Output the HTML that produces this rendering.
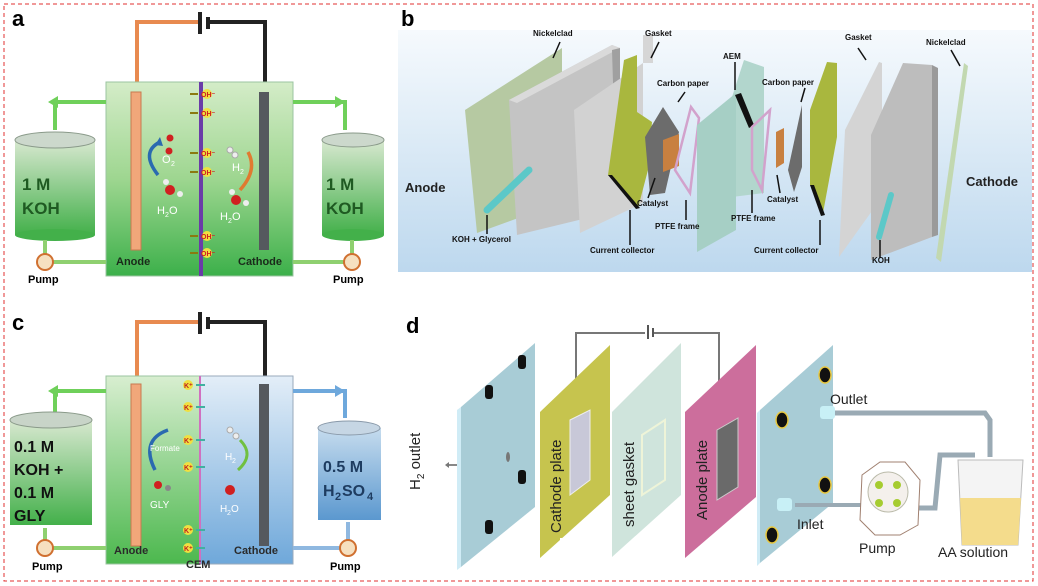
<!DOCTYPE html>
<html><head><meta charset="utf-8"><style>
html,body{margin:0;padding:0;background:#fff}
svg{display:block}
text{font-family:"Liberation Sans",Arial,sans-serif}
.b{font-weight:bold}
</style></head><body>
<svg width="1038" height="586" viewBox="0 0 1038 586" xmlns="http://www.w3.org/2000/svg">
<defs>
<linearGradient id="ga" x1="0" y1="0" x2="0" y2="1"><stop offset="0" stop-color="#d4ecc8"/><stop offset="0.5" stop-color="#9ed690"/><stop offset="1" stop-color="#3cb04a"/></linearGradient>
<linearGradient id="gc" x1="0" y1="0" x2="0" y2="1"><stop offset="0" stop-color="#d8eed0"/><stop offset="1" stop-color="#4cb84e"/></linearGradient>
<linearGradient id="bc" x1="0" y1="0" x2="0" y2="1"><stop offset="0" stop-color="#e3eef8"/><stop offset="1" stop-color="#6fa8da"/></linearGradient>
<linearGradient id="tk" x1="0" y1="0" x2="0" y2="1"><stop offset="0" stop-color="#d8e8d0"/><stop offset="1" stop-color="#43b04a"/></linearGradient>
<linearGradient id="tb" x1="0" y1="0" x2="0" y2="1"><stop offset="0" stop-color="#c6dcee"/><stop offset="1" stop-color="#5b98cf"/></linearGradient>
<linearGradient id="bg" x1="0" y1="0" x2="0" y2="1"><stop offset="0" stop-color="#f6fafd"/><stop offset="1" stop-color="#bdd8ee"/></linearGradient>
</defs>
<rect x="4" y="4" width="1029" height="577" fill="none" stroke="#e03030" stroke-width="1" stroke-dasharray="4,3"/>

<!-- ===== Panel a ===== -->
<text x="12" y="26" font-size="22" class="b" font-family="Liberation Serif">a</text>
<polyline points="137,88 137,22 198,22" fill="none" stroke="#e88a50" stroke-width="4"/>
<rect x="198" y="12" width="4" height="22" fill="#222"/>
<rect x="206" y="17" width="4" height="12" fill="#222"/>
<polyline points="208,22 265,22 265,88" fill="none" stroke="#222" stroke-width="4"/>
<rect x="106" y="82" width="187" height="194" fill="url(#ga)" stroke="#9bc4a0"/>
<rect x="199" y="82" width="4" height="194" fill="#6a3ca8"/>
<rect x="131" y="92" width="10" height="158" fill="#f1a77a" stroke="#c87a50"/>
<rect x="259" y="92" width="10" height="158" fill="#55595e"/>
<g fill="#f0e040"><circle cx="207" cy="94" r="5"/><circle cx="207" cy="113" r="5"/><circle cx="207" cy="153" r="5"/><circle cx="207" cy="172" r="5"/><circle cx="207" cy="236" r="5"/><circle cx="207" cy="253" r="5"/></g>
<g font-size="7" fill="#d02020" class="b"><text x="201" y="97">OH⁻</text><text x="201" y="116">OH⁻</text><text x="201" y="156">OH⁻</text><text x="201" y="175">OH⁻</text><text x="201" y="239">OH⁻</text><text x="201" y="256">OH⁻</text></g>
<g fill="#8a7a10"><rect x="190" y="93" width="8" height="2"/><rect x="190" y="112" width="8" height="2"/><rect x="190" y="152" width="8" height="2"/><rect x="190" y="171" width="8" height="2"/><rect x="190" y="235" width="8" height="2"/><rect x="190" y="252" width="8" height="2"/></g>
<path d="M158,175 Q140,152 160,142" fill="none" stroke="#2a6ab0" stroke-width="3.5"/>
<polygon points="160,137 163,146 155,145" fill="#2a6ab0"/>
<path d="M240,190 Q258,170 248,152" fill="none" stroke="#e07a30" stroke-width="3.5"/>
<circle cx="170" cy="138" r="3.5" fill="#d02020"/><circle cx="169" cy="151" r="3.5" fill="#d02020"/>
<text x="162" y="163" font-size="11" fill="#fff">O</text><text x="171" y="166" font-size="7" fill="#fff">2</text>
<circle cx="170" cy="190" r="5" fill="#d02020"/><circle cx="166" cy="182" r="3" fill="#eee"/><circle cx="180" cy="194" r="3" fill="#eee"/>
<text x="157" y="214" font-size="11" fill="#fff">H</text><text x="165" y="217" font-size="7" fill="#fff">2</text><text x="169" y="214" font-size="11" fill="#fff">O</text>
<circle cx="230" cy="150" r="3" fill="#eee" stroke="#aaa"/><circle cx="235" cy="155" r="3" fill="#eee" stroke="#aaa"/>
<text x="232" y="171" font-size="11" fill="#fff">H</text><text x="240" y="174" font-size="7" fill="#fff">2</text>
<circle cx="236" cy="200" r="5" fill="#d02020"/><circle cx="232" cy="192" r="3" fill="#eee"/><circle cx="246" cy="203" r="3" fill="#eee"/>
<text x="220" y="220" font-size="11" fill="#fff">H</text><text x="228" y="223" font-size="7" fill="#fff">2</text><text x="232" y="220" font-size="11" fill="#fff">O</text>
<text x="116" y="265" font-size="11" class="b" fill="#1a2a1a">Anode</text>
<text x="238" y="265" font-size="11" class="b" fill="#1a2a1a">Cathode</text>
<polyline points="106,102 55,102 55,130" fill="none" stroke="#6fd05a" stroke-width="4"/>
<polygon points="58,96 58,108 48,102" fill="#6fd05a"/>
<polyline points="293,102 345,102 345,130" fill="none" stroke="#6fd05a" stroke-width="4"/>
<polygon points="335,96 335,108 345,102" fill="#6fd05a"/>
<rect x="15" y="140" width="80" height="95" fill="url(#tk)"/><ellipse cx="55" cy="140" rx="40" ry="8" fill="#ccd8cc" stroke="#8a9a8a"/><ellipse cx="55" cy="235" rx="40" ry="6" fill="#43b04a"/>
<text x="22" y="190" font-size="17" class="b" fill="#1f5a22">1 M</text><text x="22" y="214" font-size="17" class="b" fill="#1f5a22">KOH</text>
<rect x="322" y="140" width="62" height="95" fill="url(#tk)"/><ellipse cx="353" cy="140" rx="31" ry="7" fill="#ccd8cc" stroke="#8a9a8a"/><ellipse cx="353" cy="235" rx="31" ry="6" fill="#43b04a"/>
<text x="326" y="190" font-size="17" class="b" fill="#1f5a22">1 M</text><text x="326" y="214" font-size="17" class="b" fill="#1f5a22">KOH</text>
<polyline points="45,240 45,262 106,262" fill="none" stroke="#8fd070" stroke-width="4"/>
<polyline points="352,240 352,262 293,262" fill="none" stroke="#8fd070" stroke-width="4"/>
<circle cx="45" cy="262" r="8" fill="#f6e0c0" stroke="#d07030" stroke-width="2"/>
<circle cx="352" cy="262" r="8" fill="#f6e0c0" stroke="#d07030" stroke-width="2"/>
<text x="28" y="283" font-size="11" class="b">Pump</text><text x="333" y="283" font-size="11" class="b">Pump</text>

<!-- ===== Panel b ===== -->
<text x="401" y="26" font-size="22" class="b" font-family="Liberation Serif">b</text>
<rect x="398" y="30" width="634" height="242" fill="url(#bg)"/>
<!-- nickelclad left -->
<polygon points="465,110 562,48 562,202 477,233" fill="#b6c9a2"/>
<!-- big block left -->
<polygon points="509,100 612,45 620,48 620,210 517,235" fill="#c4c4c4"/>
<polygon points="509,100 612,45 620,48 517,103" fill="#dadada"/>
<polygon points="620,48 620,210 617,212 612,50" fill="#a0a0a0"/>
<!-- gasket left -->
<polygon points="574,110 643,63 643,203 580,233" fill="#d2d2d2"/>
<rect x="643" y="35" width="10" height="28" fill="#d6d6d6"/>
<!-- current collector -->
<polygon points="608,175 624,60 637,55 637,112 652,122 648,170 638,208" fill="#a9b73e"/>
<polygon points="608,175 612,175 640,208 636,209" fill="#111"/>
<!-- carbon paper -->
<polygon points="645,137 663,107 679,132 665,193 650,195" fill="#6c6c6c"/>
<polygon points="663,140 679,134 679,166 663,172" fill="#c88040"/>
<polygon points="675,170 691,107 699,118 690,193" fill="none" stroke="#d2a2cc" stroke-width="2.5"/>
<!-- middle teal -->
<polygon points="732,97 744,60 764,67 764,193 732,197" fill="#b2d6cd"/>
<polygon points="697,125 736,93 736,230 697,252" fill="#a6cfc5"/>
<polygon points="735,95 741,93 754,125 749,128" fill="#111"/>
<polygon points="752,127 770,110 762,190 752,170" fill="none" stroke="#d2a2cc" stroke-width="2.5"/>
<polygon points="776,132 784,128 784,163 776,168" fill="#c88040"/>
<polygon points="788,170 802,105 802,167 794,192" fill="#6c6c6c"/>
<!-- current collector 2 -->
<polygon points="810,110 827,62 837,63 837,137 823,213 810,185" fill="#a9b73e"/>
<polygon points="810,185 814,185 825,215 821,216" fill="#111"/>
<!-- gasket right -->
<polygon points="845,130 879,62 882,63 882,197 839,257" fill="#d4d4d4"/>
<!-- big block right -->
<polygon points="871,135 903,63 932,65 932,237 871,260" fill="#bdbdbd"/>
<polygon points="932,65 938,68 938,235 932,237" fill="#9a9a9a"/>
<!-- nickelclad right -->
<polygon points="936,258 964,63 968,66 941,262" fill="#c2d8b0"/>
<!-- rods -->
<line x1="487" y1="210" x2="529" y2="170" stroke="#5cc8c8" stroke-width="7" stroke-linecap="round"/>
<line x1="879" y1="237" x2="891" y2="195" stroke="#5cc8c8" stroke-width="6" stroke-linecap="round"/>
<!-- arrows -->
<g stroke="#111" stroke-width="1.5">
<line x1="560" y1="42" x2="553" y2="58"/><line x1="659" y1="42" x2="651" y2="58"/>
<line x1="685" y1="92" x2="678" y2="102"/><line x1="735" y1="62" x2="735" y2="90"/>
<line x1="805" y1="88" x2="801" y2="102"/><line x1="858" y1="48" x2="866" y2="60"/>
<line x1="951" y1="50" x2="960" y2="66"/><line x1="648" y1="198" x2="655" y2="178"/>
<line x1="686" y1="220" x2="686" y2="200"/><line x1="752" y1="213" x2="752" y2="190"/>
<line x1="780" y1="193" x2="777" y2="175"/><line x1="487" y1="234" x2="487" y2="215"/>
<line x1="630" y1="245" x2="630" y2="210"/><line x1="820" y1="245" x2="820" y2="220"/>
<line x1="880" y1="258" x2="880" y2="240"/>
</g>
<g font-size="8" class="b" fill="#111">
<text x="533" y="36">Nickelclad</text><text x="645" y="36">Gasket</text>
<text x="657" y="86">Carbon paper</text><text x="723" y="59">AEM</text>
<text x="762" y="85">Carbon paper</text><text x="845" y="40">Gasket</text><text x="926" y="45">Nickelclad</text>
<text x="637" y="206">Catalyst</text><text x="655" y="229">PTFE frame</text><text x="731" y="221">PTFE frame</text>
<text x="767" y="202">Catalyst</text><text x="452" y="242">KOH + Glycerol</text>
<text x="590" y="253">Current collector</text><text x="754" y="253">Current collector</text><text x="872" y="263">KOH</text>
</g>
<text x="405" y="192" font-size="13" class="b" fill="#222">Anode</text>
<text x="966" y="186" font-size="13" class="b" fill="#222">Cathode</text>

<!-- ===== Panel c ===== -->
<text x="12" y="330" font-size="22" class="b" font-family="Liberation Serif">c</text>
<polyline points="137,376 137,322 198,322" fill="none" stroke="#e88a50" stroke-width="4"/>
<rect x="198" y="312" width="4" height="22" fill="#222"/>
<rect x="206" y="317" width="4" height="12" fill="#222"/>
<polyline points="208,322 265,322 265,376" fill="none" stroke="#222" stroke-width="4"/>
<rect x="106" y="376" width="94" height="188" fill="url(#gc)" stroke="#9bc4a0"/>
<rect x="200" y="376" width="93" height="188" fill="url(#bc)" stroke="#9ab"/>
<rect x="199" y="376" width="2" height="188" fill="#d070c0"/>
<rect x="131" y="384" width="10" height="162" fill="#f1a77a" stroke="#c87a50"/>
<rect x="259" y="384" width="10" height="162" fill="#55595e"/>
<g fill="#f0e040"><circle cx="188" cy="385" r="5"/><circle cx="188" cy="407" r="5"/><circle cx="188" cy="440" r="5"/><circle cx="188" cy="467" r="5"/><circle cx="188" cy="530" r="5"/><circle cx="188" cy="548" r="5"/></g>
<g font-size="7" fill="#c02020" class="b"><text x="184" y="388">K⁺</text><text x="184" y="410">K⁺</text><text x="184" y="443">K⁺</text><text x="184" y="470">K⁺</text><text x="184" y="533">K⁺</text><text x="184" y="551">K⁺</text></g>
<g fill="#40b0a0"><rect x="196" y="384" width="9" height="2"/><rect x="196" y="406" width="9" height="2"/><rect x="196" y="439" width="9" height="2"/><rect x="196" y="466" width="9" height="2"/><rect x="196" y="529" width="9" height="2"/><rect x="196" y="547" width="9" height="2"/></g>
<path d="M155,470 Q140,440 168,430" fill="none" stroke="#2a6ab0" stroke-width="3.5"/>
<path d="M238,470 Q255,455 240,440" fill="none" stroke="#70c040" stroke-width="3"/>
<text x="150" y="451" font-size="8" fill="#fff">Formate</text>
<text x="150" y="508" font-size="10" fill="#fff">GLY</text>
<text x="225" y="460" font-size="10" fill="#fff">H</text><text x="232" y="463" font-size="7" fill="#fff">2</text>
<text x="220" y="512" font-size="10" fill="#fff">H</text><text x="227" y="515" font-size="7" fill="#fff">2</text><text x="231" y="512" font-size="10" fill="#fff">O</text>
<circle cx="230" cy="430" r="3" fill="#eee" stroke="#aaa"/><circle cx="236" cy="436" r="3" fill="#eee" stroke="#aaa"/>
<circle cx="230" cy="490" r="5" fill="#d02020"/>
<circle cx="158" cy="485" r="4" fill="#d02020"/><circle cx="168" cy="488" r="3" fill="#888"/>
<text x="114" y="554" font-size="11" class="b" fill="#2a2a2a">Anode</text>
<text x="186" y="568" font-size="11" class="b" fill="#2a2a2a">CEM</text>
<text x="234" y="554" font-size="11" class="b" fill="#2a2a2a">Cathode</text>
<polyline points="106,391 55,391 55,415" fill="none" stroke="#6fd05a" stroke-width="4"/>
<polygon points="58,385 58,397 48,391" fill="#6fd05a"/>
<polyline points="293,391 345,391 345,418" fill="none" stroke="#6ea8dc" stroke-width="4"/>
<polygon points="335,385 335,397 345,391" fill="#6ea8dc"/>
<rect x="10" y="420" width="82" height="105" fill="url(#tk)"/><ellipse cx="51" cy="420" rx="41" ry="8" fill="#c8d4c8" stroke="#8a9a8a"/>
<text x="14" y="452" font-size="16" class="b" fill="#111">0.1 M</text><text x="14" y="475" font-size="16" class="b" fill="#111">KOH +</text>
<text x="14" y="498" font-size="16" class="b" fill="#111">0.1 M</text><text x="14" y="521" font-size="16" class="b" fill="#111">GLY</text>
<rect x="318" y="428" width="63" height="92" fill="url(#tb)"/><ellipse cx="349" cy="428" rx="31" ry="7" fill="#c6d6e4" stroke="#8a9aaa"/>
<text x="323" y="472" font-size="16" class="b" fill="#1e3c60">0.5 M</text>
<text x="323" y="496" font-size="16" class="b" fill="#1e3c60">H</text><text x="335" y="500" font-size="11" class="b" fill="#1e3c60">2</text><text x="342" y="496" font-size="16" class="b" fill="#1e3c60">SO</text><text x="367" y="500" font-size="11" class="b" fill="#1e3c60">4</text>
<polyline points="45,528 45,548 106,548" fill="none" stroke="#8fd070" stroke-width="4"/>
<polyline points="348,522 348,548 293,548" fill="none" stroke="#8fb8e0" stroke-width="4"/>
<circle cx="45" cy="548" r="8" fill="#f6e0c0" stroke="#d07030" stroke-width="2"/>
<circle cx="348" cy="548" r="8" fill="#f6e0c0" stroke="#d07030" stroke-width="2"/>
<text x="32" y="570" font-size="11" class="b">Pump</text><text x="330" y="570" font-size="11" class="b">Pump</text>

<!-- ===== Panel d ===== -->
<text x="406" y="333" font-size="22" class="b" font-family="Liberation Serif">d</text>
<polyline points="576,385 576,333 645,333" fill="none" stroke="#777" stroke-width="2"/>
<rect x="647" y="325" width="2" height="14" fill="#555"/><rect x="652" y="328" width="2" height="9" fill="#555"/>
<polyline points="654,333 719,333 719,388" fill="none" stroke="#777" stroke-width="2"/>
<polygon points="461,407 535,343 535,507 461,567" fill="#a8ccd6"/>
<polygon points="457,410 461,407 461,567 457,570" fill="#d0ecf6"/>
<g fill="#111"><rect x="485" y="385" width="8" height="14" rx="3"/><rect x="518" y="355" width="8" height="14" rx="3"/><rect x="485" y="520" width="8" height="14" rx="3"/><rect x="518" y="470" width="8" height="14" rx="3"/></g>
<ellipse cx="508" cy="457" rx="2" ry="5" fill="#777"/>
<polygon points="445,465 449,462 449,468" fill="#777"/><rect x="449" y="464" width="8" height="2" fill="#888"/>
<polygon points="540,412 610,345 610,495 540,558" fill="#c6c44e"/>
<polygon points="570,420 590,410 590,480 570,495" fill="#c8c8d8" stroke="#eee"/>
<polygon points="612,412 681,343 681,495 612,557" fill="#cfe4dc"/>
<polygon points="642,435 665,420 665,480 642,495" fill="none" stroke="#eef4d8" stroke-width="2"/>
<polygon points="685,412 756,345 756,497 685,558" fill="#cc6e9c"/>
<polygon points="717,430 738,418 738,487 717,500" fill="#6a6a6a" stroke="#ccc"/>
<polygon points="760,410 833,345 833,503 760,563" fill="#a8ccd6"/>
<polygon points="757,413 760,410 760,563 757,566" fill="#d0ecf6"/>
<g fill="#111" stroke="#e8c840" stroke-width="1.5"><ellipse cx="825" cy="375" rx="6" ry="8"/><ellipse cx="782" cy="420" rx="6" ry="8"/><ellipse cx="825" cy="485" rx="6" ry="8"/><ellipse cx="772" cy="535" rx="6" ry="8"/></g>
<rect x="795" y="545" width="12" height="6" fill="#fff"/><rect x="560" y="538" width="12" height="6" fill="#fff"/>
<polyline points="835,413 985,413 990,420 990,457" fill="none" stroke="#9aaab4" stroke-width="5"/>
<rect x="820" y="406" width="15" height="13" rx="3" fill="#c8f0f6"/>
<polyline points="795,505 861,505" fill="none" stroke="#9aaab4" stroke-width="4"/>
<rect x="777" y="498" width="15" height="13" rx="3" fill="#c8f0f6"/>
<polyline points="918,508 935,508 940,455 975,455" fill="none" stroke="#9aaab4" stroke-width="5"/>
<polygon points="862,475 880,462 905,462 920,480 918,525 900,535 875,535 860,520" fill="#fff" stroke="#a08070"/>
<circle cx="888" cy="492" r="20" fill="#f4f0ec" stroke="#bba"/>
<circle cx="879" cy="485" r="4" fill="#a6cc30"/><circle cx="897" cy="485" r="4" fill="#a6cc30"/><circle cx="879" cy="503" r="4" fill="#a6cc30"/><circle cx="897" cy="503" r="4" fill="#a6cc30"/>
<polygon points="958,460 1023,460 1018,545 962,545" fill="#f4f4f4" stroke="#bbb"/>
<polygon points="960,498 1021,498 1018,545 962,545" fill="#f4dc8c"/>
<text x="830" y="404" font-size="14" fill="#222">Outlet</text>
<text x="797" y="529" font-size="14" fill="#222">Inlet</text>
<text x="859" y="553" font-size="14" fill="#222">Pump</text>
<text x="938" y="557" font-size="14" fill="#222">AA solution</text>
<text x="0" y="0" font-size="15" fill="#222" transform="translate(420,490) rotate(-90)">H<tspan font-size="10" dy="4">2</tspan><tspan dy="-4"> outlet</tspan></text>
<text x="0" y="0" font-size="15" fill="#222" transform="translate(561,533) rotate(-90)">Cathode plate</text>
<text x="0" y="0" font-size="15" fill="#222" transform="translate(634,527) rotate(-90)">sheet gasket</text>
<text x="0" y="0" font-size="15" fill="#222" transform="translate(707,520) rotate(-90)">Anode plate</text>
</svg>
</body></html>
